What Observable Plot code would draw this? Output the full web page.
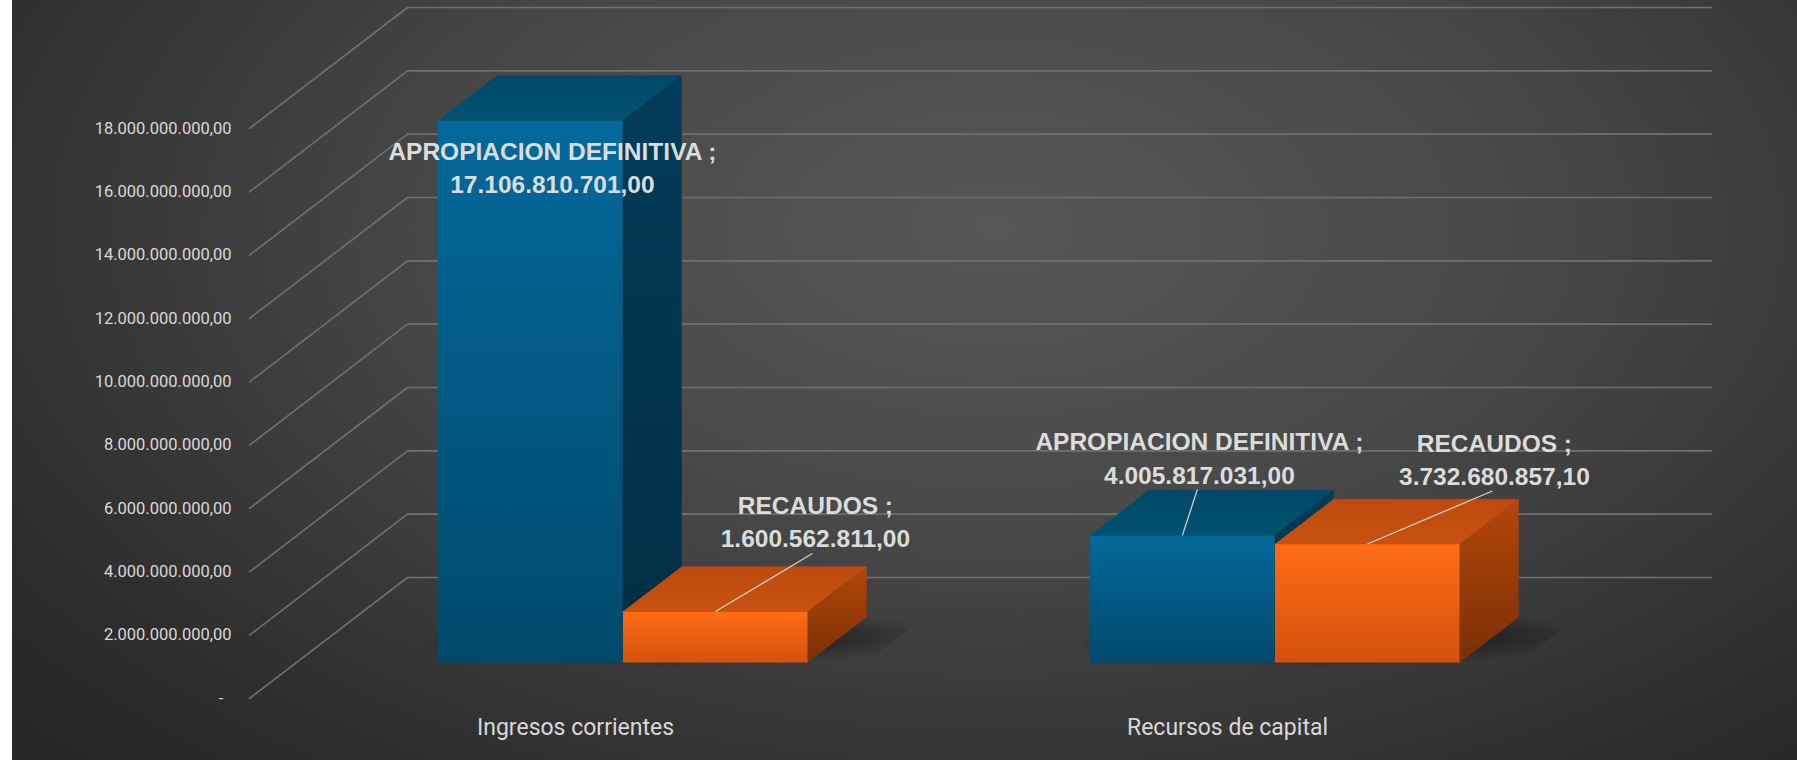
<!DOCTYPE html>
<html><head><meta charset="utf-8">
<script src="https://cdn.jsdelivr.net/npm/d3@7"></script>
<script src="https://cdn.jsdelivr.net/npm/@observablehq/plot@0.6"></script>
<style>
html,body{margin:0;padding:0;background:#fff;}
#wrap{position:absolute;left:12px;top:0;width:1785px;height:760px;overflow:hidden;
background: radial-gradient(ellipse 75% 100% at 55% 30%, #575757 0%, #484848 40%, #2c2c2c 85%, #262626 100%);}
</style></head><body><div id="wrap"></div>
<script>
// ---- data ----
const categories = ["Ingresos corrientes", "Recursos de capital"];
const seriesNames = ["APROPIACION DEFINITIVA", "RECAUDOS"];
const apropiacionDefinitiva = [17106810701.00, 4005817031.00];
const recaudos = [1600562811.00, 3732680857.10];
const yTicks = [0, 2e9, 4e9, 6e9, 8e9, 10e9, 12e9, 14e9, 16e9, 18e9];

// ---- layout ----
const W = 1785, H = 760;
const M = {left: 237, right: 244, top: 128, bottom: 62};
const xDomain = [0, categories.length];
const yDomain = [0, 18e9];
const pxPerX = (W - M.left - M.right) / (xDomain[1] - xDomain[0]);
const pxPerY = (H - M.top - M.bottom) / (yDomain[1] - yDomain[0]);

// oblique 3D projection (depth unit = 158px right, 121px up on screen)
const DEPTH = {x: 158 / pxPerX, y: 121 / pxPerY};
const proj = (x, v, z) => ({x: x + z * DEPTH.x, y: v + z * DEPTH.y});
const BAR_W = 185 / pxPerX, Z0 = 0.30, Z1 = 0.67;

const series = [
  {name: seriesNames[0], values: apropiacionDefinitiva, key: "b"},
  {name: seriesNames[1], values: recaudos, key: "o"}
];
const bars = [];
series.forEach((s, si) => s.values.forEach((v, ci) => {
  const x0 = ci + 0.5 - BAR_W + si * BAR_W;
  bars.push({ci, si, key: s.key, name: s.name, v, x0, x1: x0 + BAR_W});
}));

function face(b, kind) {
  let pts;
  if (kind === "front") pts = [[b.x0,0,Z0],[b.x1,0,Z0],[b.x1,b.v,Z0],[b.x0,b.v,Z0]];
  if (kind === "top") pts = [[b.x0,b.v,Z0],[b.x1,b.v,Z0],[b.x1,b.v,Z1],[b.x0,b.v,Z1]];
  if (kind === "side") pts = [[b.x1,0,Z0],[b.x1,b.v,Z0],[b.x1,b.v,Z1],[b.x1,0,Z1]];
  return pts.map(([x, v, z]) => ({...proj(x, v, z), id: `${b.key}-${b.ci}-${kind}`}));
}

const shadows = categories.flatMap((c, ci) => {
  const xa = ci + 0.5 - BAR_W - 0.05, xb = ci + 0.5 + BAR_W + 0.09;
  const za = Z0 - 0.04, zb = Z1 + 0.1;
  return [[xa, za], [xb, za], [xb, zb], [xa, zb]].map(([x, z]) => ({...proj(x, 0, z), id: ci}));
});

const grid = yTicks.flatMap(v =>
  [proj(0, v, 0), proj(0, v, 1), proj(xDomain[1], v, 1)].map(p => ({...p, v})));

const fmt = d3.formatLocale({decimal: ",", thousands: ".", grouping: [3], currency: ["", ""]}).format(",.2f");
const tickFormat = v => v === 0 ? "-\u00a0\u00a0" : fmt(v);

const LABEL_FS = 24.5;
// pixel offsets from the front-top centre of each bar: label centre / first baseline, leader end
const labelLayout = [
  {ci: 0, si: 0, dx: 22, dy: 33, leader: null},
  {ci: 0, si: 1, dx: 100, dy: -104, leader: [97, -58]},
  {ci: 1, si: 0, dx: 17, dy: -91, leader: [15, -46]},
  {ci: 1, si: 1, dx: 127, dy: -98, leader: [125, -53]}
];
const labels = [], leaders = [];
bars.forEach(b => {
  const L = labelLayout.find(l => l.ci === b.ci && l.si === b.si);
  const a = proj((b.x0 + b.x1) / 2, b.v, Z0);
  labels.push({
    x: a.x + L.dx / pxPerX,
    y: a.y - (L.dy - 0.71 * LABEL_FS) / pxPerY,
    text: `${b.name} ;\n${fmt(b.v)}`
  });
  if (L.leader) leaders.push({x1: a.x, y1: a.y, x2: a.x + L.leader[0] / pxPerX, y2: a.y - L.leader[1] / pxPerY});
});

const faceMarks = ["b", "o"].flatMap(k => ["front", "top", "side"].map(kind =>
  Plot.line(bars.filter(b => b.key === k).flatMap(b => face(b, kind)),
    {x: "x", y: "y", z: "id", fill: `url(#g-${k}-${kind})`, stroke: `url(#g-${k}-${kind})`, strokeWidth: 0.6})));

const plot = Plot.plot({
  width: W, height: H,
  marginLeft: M.left, marginRight: M.right, marginTop: M.top, marginBottom: M.bottom,
  x: {domain: xDomain, axis: null},
  y: {domain: yDomain, axis: null},
  style: {background: "transparent", fontFamily: "Roboto, 'Liberation Sans', sans-serif", overflow: "visible"},
  marks: [
    Plot.line(grid, {x: "x", y: "y", z: "v", stroke: "#707070", strokeWidth: 1.6}),
    Plot.text(yTicks, {frameAnchor: "left", y: d => d, text: tickFormat, textAnchor: "end", dx: -18, fill: "#d9d9d9", fontSize: 16.5}),
    Plot.text(categories, {frameAnchor: "bottom", x: (d, i) => i + 0.5, text: d => d, lineAnchor: "top", dy: 20.5, fill: "#d9d9d9", fontSize: 23}),
    Plot.line(shadows, {x: "x", y: "y", z: "id", fill: "url(#gShadow)", stroke: "none"}),
    ...faceMarks,
    Plot.link(leaders, {x1: "x1", y1: "y1", x2: "x2", y2: "y2", stroke: "#cfcfcf", strokeWidth: 1.3}),
    Plot.text(labels, {x: "x", y: "y", text: "text", lineAnchor: "top", lineHeight: 1.35, fontSize: LABEL_FS,
      fontWeight: "bold", fill: "#dcdcdc", fontFamily: "'Liberation Sans', Arial, sans-serif"})
  ]
});

const svg = d3.select(plot);
const defs = svg.insert("defs", ":first-child");
function lin(id, stops, x2 = 0, y2 = 1) {
  const g = defs.append("linearGradient").attr("id", id).attr("x1", 0).attr("y1", 0).attr("x2", x2).attr("y2", y2);
  stops.forEach(([o, c, op = 1]) => g.append("stop").attr("offset", o).attr("stop-color", c).attr("stop-opacity", op));
}
lin("g-b-front", [[0, "#03699b"], [1, "#014a6c"]]);
lin("g-b-top", [[0, "#01486a"], [1, "#02526f"]]);
lin("g-b-side", [[0, "#013c58"], [1, "#012e44"]]);
lin("g-o-front", [[0, "#ff6c15"], [1, "#d4520d"]]);
lin("g-o-top", [[0, "#bd4b0d"], [1, "#c8520f"]]);
lin("g-o-side", [[0, "#b3470a"], [1, "#7a2f05"]]);
const rg = defs.append("radialGradient").attr("id", "gShadow");
[[0, 0.55], [0.6, 0.35], [1, 0]].forEach(([o, op]) => rg.append("stop").attr("offset", o).attr("stop-color", "#000").attr("stop-opacity", op));

document.getElementById("wrap").appendChild(plot);
</script>
</body></html>
